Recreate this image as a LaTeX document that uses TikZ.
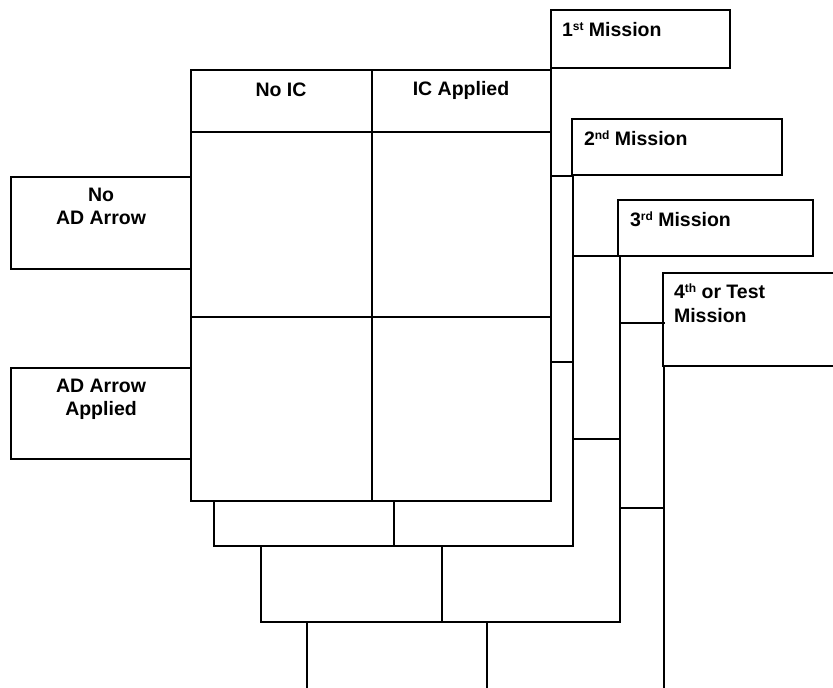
\documentclass[tikz,border=0pt]{standalone}
\usepackage{fontspec}
\setmainfont{Liberation Sans}
\newcommand\supx[1]{\raisebox{6pt}{\fontsize{12}{12}\selectfont #1}}
\begin{document}
\begin{tikzpicture}[x=1pt,y=-1pt,
  ln/.style={line width=1.6pt, line cap=rect},
  box/.style={draw, line width=1.6pt, rectangle, inner sep=0pt, outer sep=0pt, anchor=north west},
  txt/.style={font=\fontsize{19.5}{23.5}\selectfont\bfseries, inner sep=0pt, outer sep=0pt, align=center}]
\useasboundingbox (0,0) rectangle (833,688);
% label boxes
\node[box, minimum width=179pt, minimum height=58pt] (m1) at (551,10) {};
\node[box, minimum width=210pt, minimum height=56pt] (m2) at (572,119) {};
\node[box, minimum width=195pt, minimum height=56pt] (m3) at (618,200) {};
\node[box, minimum width=200pt, minimum height=93pt] (m4) at (663,273) {};
\node[box, minimum width=180pt, minimum height=92pt] (noad) at (11,177) {};
\node[box, minimum width=180pt, minimum height=91pt] (adapp) at (11,368) {};
% layer 1
\draw[ln] (191,70) rectangle (551,501);
\draw[ln] (191,132) -- (551,132);
\draw[ln] (191,317) -- (551,317);
\draw[ln] (372,70) -- (372,501);
% layer 2
\draw[ln] (551,176) -- (573,176);
\draw[ln] (551,362) -- (573,362);
\draw[ln] (573,175) -- (573,546) -- (214,546) -- (214,501);
\draw[ln] (394,501) -- (394,546);
% layer 3
\draw[ln] (573,256) -- (620,256);
\draw[ln] (573,439) -- (620,439);
\draw[ln] (620,256) -- (620,622) -- (261,622) -- (261,546);
\draw[ln] (442,546) -- (442,622);
% layer 4
\draw[ln] (620,323) -- (664,323);
\draw[ln] (620,508) -- (664,508);
\draw[ln] (664,366) -- (664,692);
\draw[ln] (307,622) -- (307,692);
\draw[ln] (487,622) -- (487,692);
% texts
\node[txt, anchor=base] (tnoic) at (281,96) {No IC};
\node[txt, anchor=base] (tic) at (461,95) {IC Applied};
\node[txt, anchor=north] (tnoad) at (101,187.9) {No\\AD Arrow};
\node[txt, anchor=north] (tadapp) at (101,379) {AD Arrow\\Applied};
\node[txt, anchor=base west] (t1) at (562,36) {1\supx{st} Mission};
\node[txt, anchor=base west] (t2) at (584,145) {2\supx{nd} Mission};
\node[txt, anchor=base west] (t3) at (630,226) {3\supx{rd} Mission};
\node[txt, anchor=north west, align=left] (t4) at (674,284.3) {4\supx{th} or Test\\Mission};
\end{tikzpicture}
\end{document}
